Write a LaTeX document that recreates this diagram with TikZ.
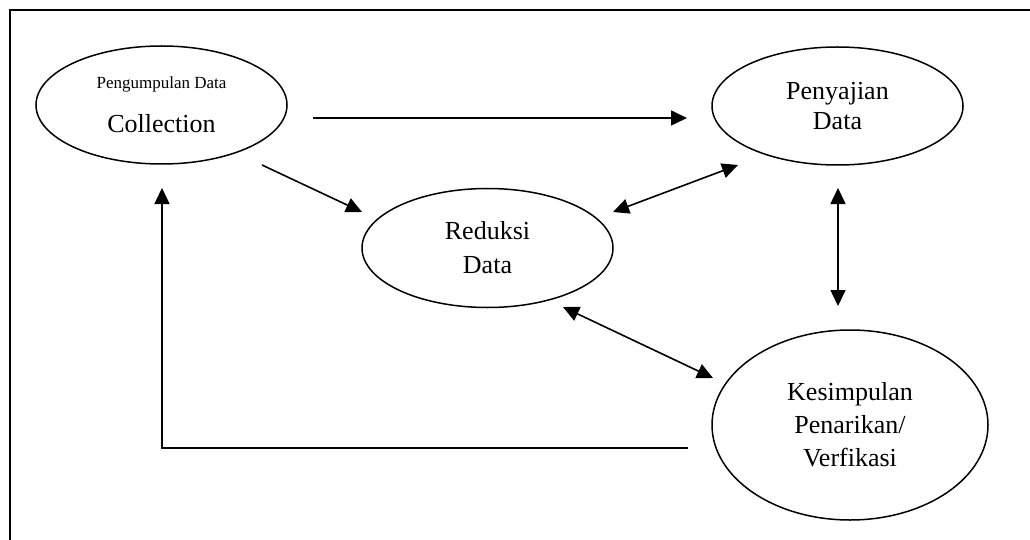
\documentclass[tikz,border=0pt]{standalone}
\usepackage{fontspec}
\setmainfont{Liberation Serif}
\usetikzlibrary{shapes.geometric,arrows.meta}
\begin{document}
\begin{tikzpicture}[x=1pt,y=-1pt,
  stage/.style={draw,ellipse,line width=1.5pt,inner sep=0pt,align=center,
    font=\fontsize{26}{30}\selectfont},
  conn/.style={line width=1.6pt,-{Triangle[length=16pt,width=15pt]}},
  biconn/.style={line width=1.6pt,{Triangle[length=16pt,width=15pt]}-{Triangle[length=16pt,width=15pt]}}]
\useasboundingbox (0,0) rectangle (1030,540);
\draw[line width=1.6pt] (10,540) -- (10,10) -- (1030,10);

\node[stage,minimum width=251pt,minimum height=118pt] (col) at (161.5,105)
  {{\fontsize{17}{20}\selectfont Pengumpulan Data}\\[14pt]Collection};
\node[stage,minimum width=251pt,minimum height=118pt] (pen) at (837.5,106)
  {Penyajian\\Data};
\node[stage,minimum width=251pt,minimum height=119pt] (red) at (487.5,248)
  {Reduksi\\[4pt]Data};
\node[stage,minimum width=276pt,minimum height=190pt,font=\fontsize{26}{33}\selectfont] (kes) at (850,425)
  {Kesimpulan\\Penarikan/\\Verfikasi};

\coordinate (a1s) at (313,118);
\coordinate (a1e) at (687,118);
\coordinate (a2s) at (262,165);
\coordinate (a2e) at (362,212);
\coordinate (a3s) at (613,212);
\coordinate (a3e) at (738,165);
\coordinate (a4s) at (563,307);
\coordinate (a4e) at (713,378);
\coordinate (a5s) at (838,188);
\coordinate (a5e) at (838,306);
\coordinate (a6s) at (688,448);
\coordinate (a6m) at (162,448);
\coordinate (a6e) at (162,188);

\draw[conn] (a1s) -- (a1e);
\draw[conn] (a2s) -- (a2e);
\draw[biconn] (a3s) -- (a3e);
\draw[biconn] (a4s) -- (a4e);
\draw[biconn] (a5s) -- (a5e);
\draw[conn] (a6s) -- (a6m) -- (a6e);
\end{tikzpicture}
\end{document}
